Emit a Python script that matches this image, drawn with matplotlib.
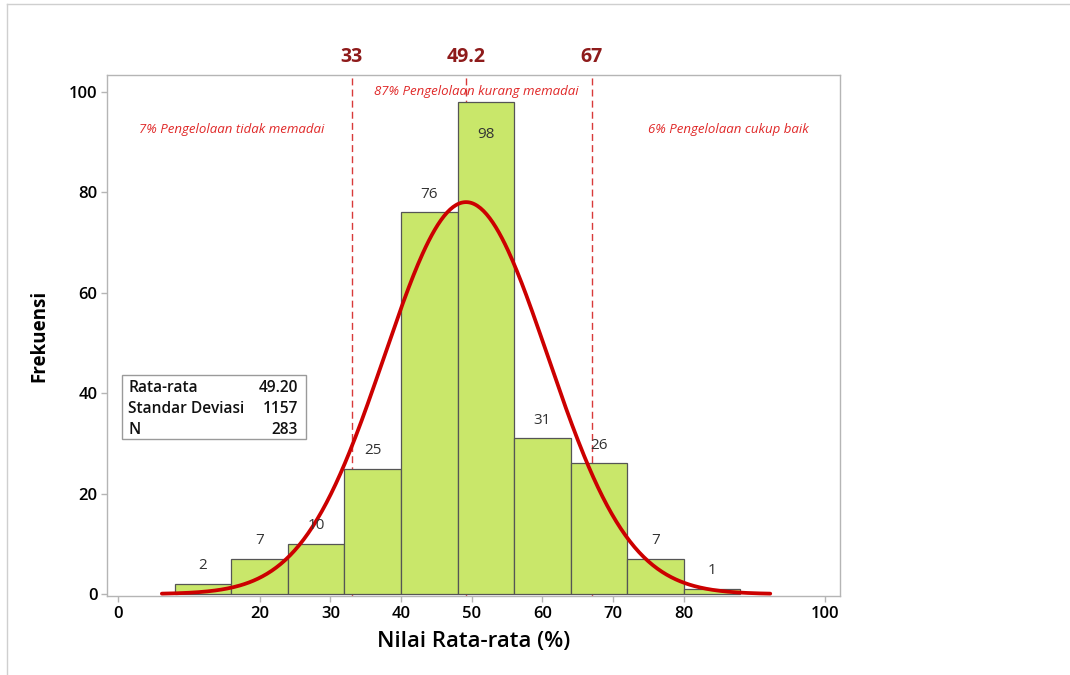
import numpy as np
import matplotlib
matplotlib.use('Agg')
import matplotlib.pyplot as plt
from matplotlib.patches import Rectangle
from matplotlib.lines import Line2D

plt.rcParams['font.family'] = ['Open Sans', 'Noto Sans', 'DejaVu Sans']

# histogram data (bins of width 8)
bin_edges = [8, 16, 24, 32, 40, 48, 56, 64, 72, 80, 88]
counts = [2, 7, 10, 25, 76, 98, 31, 26, 7, 1]

# summary statistics
mean = 49.2
sd = 11.57
n = 283
stat_labels = ['Rata-rata', 'Standar Deviasi', 'N']
stat_values = ['49.20', '1157', '283']

# category cut-offs and notes
cut_values = [33, 49.2, 67]
cut_labels = ['33', '49.2', '67']
notes = ['7% Pengelolaan tidak memadai', '87% Pengelolaan kurang memadai', '6% Pengelolaan cukup baik']
note_x = [16, 50.6, 86.3]
note_y = [92.6, 100.0, 92.6]

xticks = [0, 20, 30, 40, 50, 60, 70, 80, 100]
yticks = [0, 20, 40, 60, 80, 100]

fig = plt.figure(figsize=(10.7, 6.75), dpi=100)
ax = fig.add_axes([0.1, 0.117, 0.685, 0.772])

# faint outer frame of the picture
fig.add_artist(Line2D([7/1070, 1.0], [1 - 4/675, 1 - 4/675], color='#cfcfcf', lw=1))
fig.add_artist(Line2D([7/1070, 7/1070], [0, 1 - 4/675], color='#cfcfcf', lw=1))

widths = np.diff(bin_edges)
lefts = np.array(bin_edges[:-1])
ax.bar(lefts, counts, width=widths, align='edge', color='#c9e76a',
       edgecolor='#555555', linewidth=0.9, zorder=2)

# dashed cut lines (behind bars)
for v, lab in zip(cut_values, cut_labels):
    ax.axvline(v, color='#d83a3a', lw=1, ls=(0, (5, 3)), zorder=1)
    ax.annotate(lab, xy=(v, 1), xycoords=('data', 'axes fraction'),
                xytext=(0, 6), textcoords='offset points', ha='center', va='bottom',
                color='#8e1b1b', fontsize=14, fontweight='bold')

# fitted normal curve
binw = bin_edges[1] - bin_edges[0]
xs = np.linspace(mean - 3.72 * sd, mean + 3.72 * sd, 400)
ys = n * binw / (sd * np.sqrt(2 * np.pi)) * np.exp(-0.5 * ((xs - mean) / sd) ** 2)
ax.plot(xs, ys, color='#cc0000', lw=2.7, zorder=3, solid_capstyle='round')

# count labels
for l, w, c in zip(lefts, widths, counts):
    if c > 95:
        ax.text(l + w / 2, c - 6.4, str(c), ha='center', va='center', fontsize=11, color='#333333', zorder=4)
    else:
        ax.text(l + w / 2, c + 3.6, str(c), ha='center', va='center', fontsize=11, color='#333333', zorder=4)

for t, x, y in zip(notes, note_x, note_y):
    ax.text(x, y, t, ha='center', va='center', fontsize=9.5, style='italic', color='#e02828', zorder=4)

# statistics box
ax.add_patch(Rectangle((0.0205, 0.301), 0.251, 0.123, transform=ax.transAxes,
                       facecolor='white', edgecolor='#9a9a9a', lw=1, zorder=5))
for i, (lab, val) in enumerate(zip(stat_labels, stat_values)):
    yy = 0.399 - i * 0.04
    ax.text(0.0287, yy, lab, transform=ax.transAxes, ha='left', va='center',
            fontsize=11.2, fontweight='semibold', color='#111111', zorder=6)
    ax.text(0.2606, yy, val, transform=ax.transAxes, ha='right', va='center',
            fontsize=11.2, fontweight='semibold', color='#111111', zorder=6)

ax.set_xlim(-1.6, 102.1)
ax.set_ylim(-0.4, 103.4)
ax.set_xticks(xticks)
ax.set_yticks(yticks)
for s in ax.spines.values():
    s.set_color('#b5b5b5')
    s.set_linewidth(1)
ax.tick_params(axis='both', length=4, width=1, color='#b5b5b5', labelsize=12, pad=3)
for lb in ax.get_xticklabels() + ax.get_yticklabels():
    lb.set_fontweight('semibold')

ax.set_ylabel('Frekuensi', fontsize=13.5, fontweight='bold')
ax.set_xlabel('Nilai Rata-rata (%)', fontsize=16, fontweight='semibold')
ax.yaxis.set_label_coords(-0.079, 0.5)
ax.xaxis.set_label_coords(0.5, -0.067)

fig.savefig('out.png', dpi=100)
